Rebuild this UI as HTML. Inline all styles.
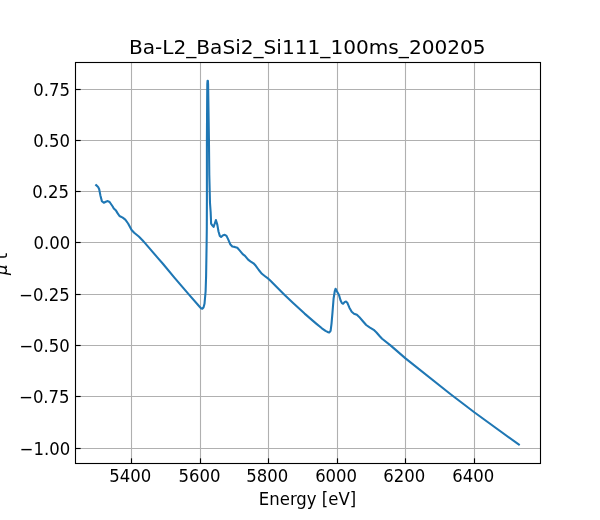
<!DOCTYPE html>
<html lang="en">
<head>
<meta charset="utf-8">
<title>Ba-L2_BaSi2_Si111_100ms_200205</title>
<style>
html,body{margin:0;padding:0;background:#fff;}
body{width:600px;height:520px;overflow:hidden;}
svg{display:block;}
text{font-family:"DejaVu Sans","Liberation Sans",sans-serif;fill:#000;stroke:#000;stroke-linejoin:round;}
.tk text{font-size:16.667px;stroke-width:0px;}
.ti{font-size:20px;stroke-width:0px;}
.g{stroke:#b0b0b0;stroke-width:1.111;fill:none;}
.t{stroke:#000;stroke-width:1.15;fill:none;}
</style>
</head>
<body>
<svg width="600" height="520" viewBox="0 0 600 520">
<rect x="0" y="0" width="600" height="520" fill="#ffffff"/>

<g class="g">
<line x1="131.5" y1="62.5" x2="131.5" y2="463.5"/>
<line x1="200.5" y1="62.5" x2="200.5" y2="463.5"/>
<line x1="268.5" y1="62.5" x2="268.5" y2="463.5"/>
<line x1="337.5" y1="62.5" x2="337.5" y2="463.5"/>
<line x1="405.5" y1="62.5" x2="405.5" y2="463.5"/>
<line x1="474.5" y1="62.5" x2="474.5" y2="463.5"/>
<line x1="75.5" y1="89.5" x2="540.5" y2="89.5"/>
<line x1="75.5" y1="140.5" x2="540.5" y2="140.5"/>
<line x1="75.5" y1="191.5" x2="540.5" y2="191.5"/>
<line x1="75.5" y1="242.5" x2="540.5" y2="242.5"/>
<line x1="75.5" y1="294.5" x2="540.5" y2="294.5"/>
<line x1="75.5" y1="345.5" x2="540.5" y2="345.5"/>
<line x1="75.5" y1="396.5" x2="540.5" y2="396.5"/>
<line x1="75.5" y1="448.5" x2="540.5" y2="448.5"/>
</g>
<g class="t">
<line x1="131.5" y1="458.34" x2="131.5" y2="463.5"/>
<line x1="200.5" y1="458.34" x2="200.5" y2="463.5"/>
<line x1="268.5" y1="458.34" x2="268.5" y2="463.5"/>
<line x1="337.5" y1="458.34" x2="337.5" y2="463.5"/>
<line x1="405.5" y1="458.34" x2="405.5" y2="463.5"/>
<line x1="474.5" y1="458.34" x2="474.5" y2="463.5"/>
<line x1="75.5" y1="89.5" x2="80.66" y2="89.5"/>
<line x1="75.5" y1="140.5" x2="80.66" y2="140.5"/>
<line x1="75.5" y1="191.5" x2="80.66" y2="191.5"/>
<line x1="75.5" y1="242.5" x2="80.66" y2="242.5"/>
<line x1="75.5" y1="294.5" x2="80.66" y2="294.5"/>
<line x1="75.5" y1="345.5" x2="80.66" y2="345.5"/>
<line x1="75.5" y1="396.5" x2="80.66" y2="396.5"/>
<line x1="75.5" y1="448.5" x2="80.66" y2="448.5"/>
</g>
<clipPath id="c"><rect x="75" y="62.4" width="465" height="400.4"/></clipPath>
<path clip-path="url(#c)" d="M96.14 185.10 L98.10 186.90 L99.20 189.20 L100.40 195.40 L101.90 201.20 L103.80 202.80 L105.80 201.80 L107.80 201.10 L109.60 202.00 L112.70 206.50 L113.80 208.50 L116.00 210.60 L117.70 213.40 L119.50 216.00 L122.70 217.70 L125.30 219.70 L128.10 223.50 L131.60 230.00 L134.20 232.80 L138.80 236.50 L142.70 240.50 L144.40 242.40 L151.50 250.65 L157.30 257.36 L163.10 264.00 L174.60 277.80 L189.00 294.60 L199.40 306.50 L201.00 308.20 L202.30 308.70 L203.50 307.50 L204.50 303.80 L205.60 291.50 L206.10 276.00 L206.60 245.00 L206.80 228.00 L206.90 200.00 L206.90 140.00 L207.15 100.00 L207.30 84.00 L207.55 80.80 L207.90 80.80 L208.10 84.00 L208.35 100.00 L208.95 140.00 L209.30 175.00 L210.00 203.00 L210.65 212.00 L210.95 219.00 L211.10 223.60 L212.00 225.00 L213.60 226.90 L214.60 224.00 L215.90 220.10 L217.30 224.60 L218.50 231.50 L219.80 235.90 L221.10 237.00 L223.10 235.20 L224.80 234.80 L226.50 235.90 L228.30 239.60 L230.20 244.20 L232.30 246.50 L234.60 246.90 L237.30 247.80 L239.60 250.40 L242.70 254.10 L245.00 255.80 L248.10 259.60 L250.40 261.30 L253.50 263.30 L255.80 265.80 L258.80 270.00 L261.90 273.80 L265.00 276.20 L268.30 278.70 L270.00 280.30 L277.20 287.50 L284.40 294.70 L293.10 302.90 L304.60 313.60 L316.20 323.60 L321.90 328.30 L325.50 330.80 L327.50 331.90 L329.20 332.50 L330.60 330.80 L331.50 323.80 L332.50 312.30 L333.60 298.50 L334.80 291.00 L335.60 288.70 L336.70 291.00 L339.00 295.00 L340.50 300.20 L341.90 303.10 L343.10 303.70 L344.80 301.90 L346.00 301.60 L347.50 303.10 L349.40 307.70 L351.70 311.70 L354.00 313.70 L356.90 314.80 L359.20 316.90 L362.70 321.00 L366.20 325.00 L369.60 327.30 L373.70 329.80 L376.50 332.50 L380.00 336.50 L382.10 338.70 L390.80 345.60 L405.50 358.40 L450.00 393.80 L474.60 412.50 L518.86 444.60" fill="none" stroke="#1f77b4" stroke-width="2.0833" stroke-linejoin="round" stroke-linecap="square"/>
<rect x="75.5" y="62.5" width="465" height="401" fill="none" stroke="#000" stroke-width="1.111" stroke-linejoin="miter"/>
<g class="tk">
<text transform="translate(130.330 482.330) scale(0.99 1.03)" text-anchor="middle">5400</text>
<text transform="translate(199.440 482.330) scale(0.99 1.03)" text-anchor="middle">5600</text>
<text transform="translate(267.350 482.330) scale(0.99 1.03)" text-anchor="middle">5800</text>
<text transform="translate(336.110 482.330) scale(0.99 1.03)" text-anchor="middle">6000</text>
<text transform="translate(404.230 482.330) scale(0.99 1.03)" text-anchor="middle">6200</text>
<text transform="translate(473.290 482.330) scale(0.99 1.03)" text-anchor="middle">6400</text>
<text transform="translate(69.910 95.880) scale(0.99 1.03)" text-anchor="end">0.75</text>
<text transform="translate(70.000 147.180) scale(0.99 1.03)" text-anchor="end">0.50</text>
<text transform="translate(68.920 198.480) scale(0.99 1.03)" text-anchor="end">0.25</text>
<text transform="translate(70.180 248.780) scale(0.99 1.03)" text-anchor="end">0.00</text>
<text transform="translate(69.670 301.080) scale(0.99 1.03)" text-anchor="end">−0.25</text>
<text transform="translate(69.770 352.380) scale(0.99 1.03)" text-anchor="end">−0.50</text>
<text transform="translate(69.610 402.680) scale(0.99 1.03)" text-anchor="end">−0.75</text>
<text transform="translate(70.130 454.980) scale(0.99 1.03)" text-anchor="end">−1.00</text>
<text transform="translate(307.490 504.510) scale(0.99 1.03)" text-anchor="middle">Energy [eV]</text>
<g transform="translate(8.008 275.100) rotate(-90) scale(0.99 1.03)"><text style="white-space:pre"><tspan x="0" y="-0.803" font-style="oblique">μ</tspan><tspan x="10.604" y="-0.803"> </tspan><tspan x="15.902" y="-0.803">t</tspan></text></g>
</g>
<text class="ti" transform="translate(307.250 54.070) scale(1.006 1.0)" text-anchor="middle">Ba-L2_BaSi2_Si111_100ms_200205</text>
</svg>
</body>
</html>
